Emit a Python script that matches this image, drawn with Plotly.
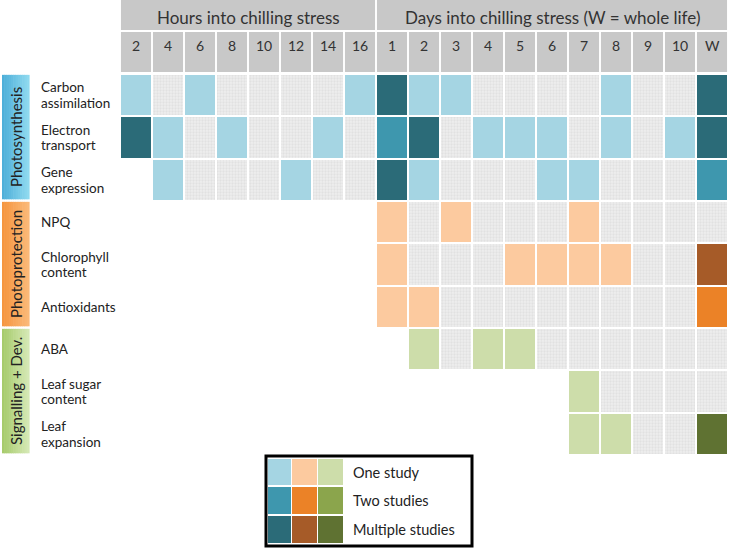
import plotly.graph_objects as go

# ---------------- data ----------------
hour_cols = ["2", "4", "6", "8", "10", "12", "14", "16"]
day_cols = ["1", "2", "3", "4", "5", "6", "7", "8", "9", "10", "W"]
hours_title = "Hours into chilling stress"
days_title = "Days into chilling stress (W = whole life)"

row_labels = [["Carbon", "assimilation"], ["Electron", "transport"], ["Gene", "expression"],
              ["NPQ"], ["Chlorophyll", "content"], ["Antioxidants"],
              ["ABA"], ["Leaf sugar", "content"], ["Leaf", "expansion"]]
groups = ["Photosynthesis", "Photoprotection", "Signalling + Dev."]
row_group = [0, 0, 0, 1, 1, 1, 2, 2, 2]

# codes: None = not shown, 0 = no study (hatched), 1 = one study, 2 = two studies, 3 = multiple
N = None
carbon_assimilation = [1, 0, 1, 0, 0, 0, 0, 1, 3, 1, 1, 0, 0, 0, 0, 1, 0, 0, 3]
electron_transport = [3, 1, 0, 1, 0, 0, 1, 0, 2, 3, 0, 1, 1, 1, 0, 1, 0, 1, 3]
gene_expression = [N, 1, 0, 0, 0, 1, 0, 0, 3, 1, 0, 0, 0, 1, 1, 0, 0, 0, 2]
npq = [N, N, N, N, N, N, N, N, 1, 0, 1, 0, 0, 0, 1, 0, 0, 0, 0]
chlorophyll = [N, N, N, N, N, N, N, N, 1, 0, 0, 0, 1, 1, 1, 1, 0, 0, 3]
antioxidants = [N, N, N, N, N, N, N, N, 1, 1, 0, 0, 0, 0, 0, 0, 0, 0, 2]
aba = [N, N, N, N, N, N, N, N, N, 1, 0, 1, 1, 0, 0, 0, 0, 0, 0]
leaf_sugar = [N, N, N, N, N, N, N, N, N, N, N, N, N, N, 1, 0, 0, 0, 0]
leaf_expansion = [N, N, N, N, N, N, N, N, N, N, N, N, N, N, 1, 1, 0, 0, 3]
matrix = [carbon_assimilation, electron_transport, gene_expression, npq, chlorophyll,
          antioxidants, aba, leaf_sugar, leaf_expansion]

legend_labels = ["One study", "Two studies", "Multiple studies"]

# ---------------- styles ----------------
group_colors = [["#A5D5E3", "#3E97AE", "#2B6B78"],
                ["#FCCA9F", "#EB8227", "#A65B28"],
                ["#CDDDAA", "#8BA54C", "#5F7232"]]
group_box_colors = [("#4EAFD9", "#8ED9EF"), ("#F59640", "#FBB877"), ("#A7CB6C", "#D4E8B4")]
hatch_bg = "#EEEEEE"
hatch_fg = "#D4D4D4"
header_grey = "#C8C8C8"
text_col = "#333333"
FONT = "Lato"

W, H = 729, 548
L, R, T, B = 120, 1, 74, 93
plot_w = W - L - R
plot_h = H - T - B


def px_x(p):
    return (p - L) / plot_w


def px_y(p):
    return (H - B - p) / plot_h


ncol = len(hour_cols) + len(day_cols)
all_cols = hour_cols + day_cols
cw, rh = 0.94, 0.95

fig = go.Figure()

# hatched "no study" cells
xs, bases = [], []
for r, vals in enumerate(matrix):
    for c, v in enumerate(vals):
        if v == 0:
            xs.append(c)
            bases.append(r - rh / 2)
fig.add_trace(go.Bar(x=xs, y=[rh] * len(xs), base=bases, width=cw,
                     marker=dict(color=hatch_bg, line=dict(width=0),
                                 pattern=dict(shape=".", fgcolor=hatch_fg, bgcolor=hatch_bg,
                                              size=3, solidity=0.45)),
                     hoverinfo="skip", showlegend=False))

# coloured cells
for g in range(len(groups)):
    for lvl in (1, 2, 3):
        xs, bases = [], []
        for r, vals in enumerate(matrix):
            if row_group[r] != g:
                continue
            for c, v in enumerate(vals):
                if v == lvl:
                    xs.append(c)
                    bases.append(r - rh / 2)
        if xs:
            fig.add_trace(go.Bar(x=xs, y=[rh] * len(xs), base=bases, width=cw,
                                 marker=dict(color=group_colors[g][lvl - 1], line=dict(width=0)),
                                 hoverinfo="skip", showlegend=False))

shapes, annotations = [], []

# header title bars
nh = len(hour_cols)
for x0, x1, txt in [(-0.5, nh - 0.5, hours_title), (nh - 0.5, ncol - 0.5, days_title)]:
    shapes.append(dict(type="rect", xref="x", yref="paper", x0=x0 + 0.03, x1=x1 - 0.03,
                       y0=px_y(30), y1=px_y(0), fillcolor=header_grey, line=dict(width=0),
                       layer="below"))
    annotations.append(dict(xref="x", yref="paper", x=(x0 + x1) / 2, y=px_y(17), text=txt,
                            xanchor="center", yanchor="middle",
                            showarrow=False, font=dict(family=FONT, size=17, color=text_col)))

# column header cells
for c, lab in enumerate(all_cols):
    shapes.append(dict(type="rect", xref="x", yref="paper", x0=c - cw / 2, x1=c + cw / 2,
                       y0=px_y(72), y1=px_y(32), fillcolor=header_grey, line=dict(width=0),
                       layer="below"))
    annotations.append(dict(xref="x", yref="paper", x=c, y=px_y(45), text=lab,
                            xanchor="center", yanchor="middle",
                            showarrow=False, font=dict(family=FONT, size=14, color=text_col)))

# row labels (one annotation per line for tight line spacing)
for r, lines in enumerate(row_labels):
    n = len(lines)
    for i, ln in enumerate(lines):
        shift = (((n - 1) / 2) - i) * 15.5
        annotations.append(dict(xref="paper", yref="y", x=px_x(39), y=r, text=ln,
                                xanchor="left", yanchor="middle", yshift=shift,
                                showarrow=False,
                                font=dict(family=FONT, size=13.5, color="#222222")))


def hex2rgb(h):
    h = h.lstrip("#")
    return [int(h[i:i + 2], 16) for i in (0, 2, 4)]


# group boxes (horizontal gradient)
nstrip = 12
for g, name in enumerate(groups):
    rws = [r for r in range(len(row_group)) if row_group[r] == g]
    y_top, y_bot = min(rws) - 0.5, max(rws) + 0.5
    c0, c1 = hex2rgb(group_box_colors[g][0]), hex2rgb(group_box_colors[g][1])
    xa, xb = px_x(2), px_x(29)
    for s in range(nstrip):
        t = s / (nstrip - 1)
        col = "rgb(%d,%d,%d)" % tuple(round(c0[i] + (c1[i] - c0[i]) * t) for i in range(3))
        shapes.append(dict(type="rect", xref="paper", yref="y",
                           x0=xa + (xb - xa) * s / nstrip, x1=xa + (xb - xa) * (s + 1) / nstrip + 0.001,
                           y0=y_top + 0.02, y1=y_bot - 0.04, fillcolor=col, line=dict(width=0),
                           layer="below"))
    annotations.append(dict(xref="paper", yref="y", x=(xa + xb) / 2, y=(y_top + y_bot) / 2,
                            text=name, textangle=-90, showarrow=False,
                            xanchor="center", yanchor="middle",
                            font=dict(family=FONT, size=15, color="#222222")))

# legend box
shapes.append(dict(type="rect", xref="paper", yref="paper", x0=px_x(266), x1=px_x(472),
                   y0=px_y(546), y1=px_y(456), fillcolor="white",
                   line=dict(color="black", width=3)))
sw_x = [(268, 291), (292, 317), (318, 343)]
sw_y = [(459, 485), (487, 514), (516, 543)]
for g in range(len(groups)):
    for lvl in range(3):
        shapes.append(dict(type="rect", xref="paper", yref="paper",
                           x0=px_x(sw_x[g][0]), x1=px_x(sw_x[g][1]),
                           y0=px_y(sw_y[lvl][1]), y1=px_y(sw_y[lvl][0]),
                           fillcolor=group_colors[g][lvl], line=dict(width=0)))
for lvl, lab in enumerate(legend_labels):
    annotations.append(dict(xref="paper", yref="paper", x=px_x(351),
                            y=px_y((sw_y[lvl][0] + sw_y[lvl][1]) / 2), text=lab,
                            xanchor="left", yanchor="middle", showarrow=False,
                            font=dict(family=FONT, size=14.5, color="#222222")))

fig.update_layout(
    width=W, height=H, margin=dict(l=L, r=R, t=T, b=B),
    paper_bgcolor="white", plot_bgcolor="white", barmode="overlay", bargap=0,
    xaxis=dict(range=[-0.5, ncol - 0.5], visible=False, fixedrange=True),
    yaxis=dict(range=[len(row_labels) - 0.5, -0.5], visible=False, fixedrange=True),
    shapes=shapes, annotations=annotations, showlegend=False,
)

fig.write_html("out.html", config={"displayModeBar": False},
               post_script="document.body.style.margin='0';")
